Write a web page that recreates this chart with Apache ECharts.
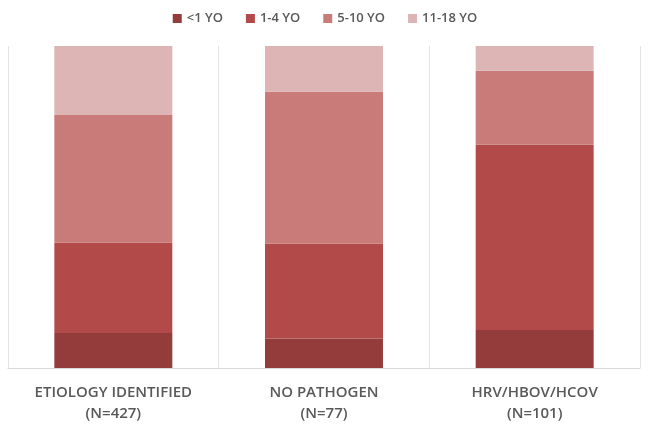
<!DOCTYPE html>
<html>
<head>
<meta charset="utf-8">
<script src="https://cdn.jsdelivr.net/npm/echarts@6/dist/echarts.min.js"></script>
<style>html,body{margin:0;padding:0;background:#fff;}#c{width:650px;height:428px;}</style>
</head>
<body>
<div id="c"></div>
<script>
const categories = ['ETIOLOGY IDENTIFIED\n(N=427)', 'NO PATHOGEN\n(N=77)', 'HRV/HBOV/HCOV\n(N=101)'];
const seriesNames = ['<1 YO', '1-4 YO', '5-10 YO', '11-18 YO'];
const under1 = [10.9, 9.2, 11.8];
const age1to4 = [28.0, 29.5, 57.5];
const age5to10 = [39.7, 47.1, 23.0];
const age11to18 = [21.4, 14.2, 7.7];
const colors = ['#943C3B', '#B14A48', '#C97B7A', '#DDB5B5'];
const values = [under1, age1to4, age5to10, age11to18];

const chart = echarts.init(document.getElementById('c'));
chart.setOption({
  animation: false,
  textStyle: { fontFamily: 'Open Sans' },
  legend: {
    top: 7,
    left: 'center',
    itemWidth: 9,
    itemHeight: 9,
    itemGap: 23,
    icon: 'rect',
    textStyle: { color: '#595959', fontSize: 13, fontWeight: 600, fontFamily: 'Open Sans' },
    data: seriesNames
  },
  grid: { left: 8, right: 10, top: 46, bottom: 60, containLabel: false },
  xAxis: {
    type: 'category',
    data: categories,
    axisTick: { show: false },
    axisLine: { show: true, lineStyle: { color: '#D9D9D9', width: 1 } },
    splitLine: { show: true, lineStyle: { color: '#E3E3E3', width: 1 } },
    axisLabel: {
      color: '#595959',
      fontSize: 15,
      fontWeight: 600,
      fontFamily: 'Open Sans',
      lineHeight: 21,
      margin: 14,
      interval: 0
    }
  },
  yAxis: {
    type: 'value',
    min: 0,
    max: 100,
    show: false,
    splitLine: { show: false }
  },
  series: seriesNames.map((n, i) => ({
    name: n,
    type: 'bar',
    stack: 'total',
    barWidth: '56%',
    itemStyle: { color: colors[i] },
    data: values[i]
  }))
});
</script>
</body>
</html>
